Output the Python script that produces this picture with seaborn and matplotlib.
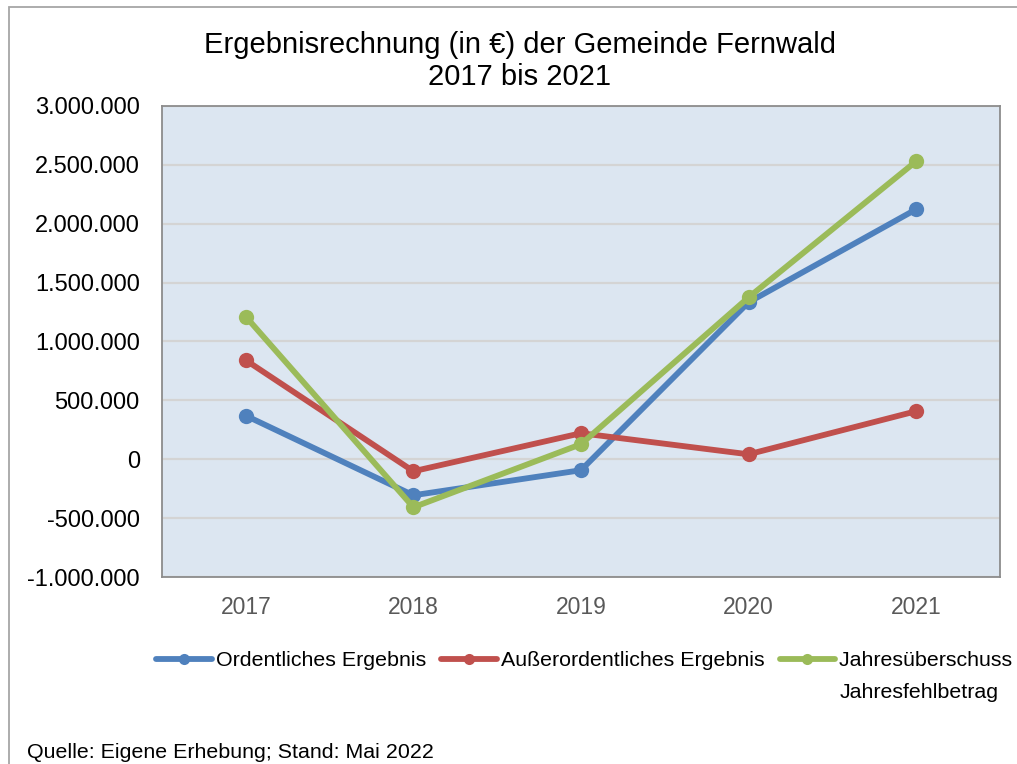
import matplotlib.pyplot as plt
import matplotlib.patches as mpatches
import pandas as pd
import seaborn as sns
from matplotlib.ticker import FuncFormatter, MultipleLocator

years = ["2017", "2018", "2019", "2020", "2021"]
ordentlich = [370000, -306000, -93000, 1333000, 2123000]
ausserordentlich = [841000, -102000, 221000, 42000, 408000]
jahresergebnis = [1211000, -408000, 128000, 1375000, 2531000]

series_names = [
    "Ordentliches Ergebnis",
    "Außerordentliches Ergebnis",
    "Jahresüberschuss /",
]
label_cont = "Jahresfehlbetrag"  # second line of the third legend label
colors = ["#4F81BD", "#C0504D", "#9BBB59"]

df = pd.DataFrame({
    "Jahr": years * 3,
    "Wert": ordentlich + ausserordentlich + jahresergebnis,
    "Reihe": [n for n in series_names for _ in years],
})

sns.set_theme(style="white")
plt.rcParams["font.family"] = ["Liberation Sans", "DejaVu Sans"]
plt.rcParams["text.color"] = "black"

fig = plt.figure(figsize=(10.17, 7.64), dpi=100)
ax = fig.add_axes([162 / 1017, 1 - 577 / 764, 838 / 1017, 471 / 764])

sns.lineplot(
    data=df, x="Jahr", y="Wert", hue="Reihe", palette=colors,
    marker="o", markersize=11, markeredgewidth=0, linewidth=4.2,
    sort=False, ax=ax,
)

ax.set_facecolor("#DCE6F1")
ax.set_xlim(-0.5, 4.5)
ax.set_ylim(-1000000, 3000000)
ax.yaxis.set_major_locator(MultipleLocator(500000))
ax.yaxis.set_major_formatter(FuncFormatter(lambda v, _: f"{v:,.0f}".replace(",", ".")))
ax.grid(axis="y", color="#D4D4D4", linewidth=1.6)
ax.set_axisbelow(True)
for s in ax.spines.values():
    s.set_color("#8C8C8C")
    s.set_linewidth(1.3)
ax.tick_params(axis="y", length=0, pad=16, labelsize=17, labelcolor="black")
ax.tick_params(axis="x", length=0, pad=14, labelsize=16.5, labelcolor="#595959")
ax.set_xlabel("")
ax.set_ylabel("")

handles, labels = ax.get_legend_handles_labels()
ax.get_legend().remove()
for h in handles:
    h.set_markersize(8)
leg = fig.legend(
    handles, labels, loc="center left", bbox_to_anchor=(156 / 1017, 1 - 661 / 764),
    ncol=3, frameon=False, fontsize=15.4, handlelength=2.6, handletextpad=0.2,
    columnspacing=0.7, borderaxespad=0, borderpad=0,
)

fig.canvas.draw()
bb = leg.get_texts()[2].get_window_extent()
fig.text(bb.x0 / fig.bbox.width, (bb.y0 - 31) / fig.bbox.height, label_cont,
         ha="left", va="bottom", fontsize=15.4)

fig.text(520 / 1017, 1 - 61 / 764, "Ergebnisrechnung (in €) der Gemeinde Fernwald\n2017 bis 2021",
         ha="center", va="center", fontsize=21, linespacing=1.15)
fig.text(27 / 1017, 1 - 752 / 764, "Quelle: Eigene Erhebung; Stand: Mai 2022",
         ha="left", va="center", fontsize=15.4)

frame = mpatches.Rectangle((9 / 1017, -0.1), 1.2, 1 - 7 / 764 + 0.1, transform=fig.transFigure,
                           fill=False, edgecolor="#A6A6A6", linewidth=1.3)
fig.patches.append(frame)

fig.savefig("out.png", dpi=100)
